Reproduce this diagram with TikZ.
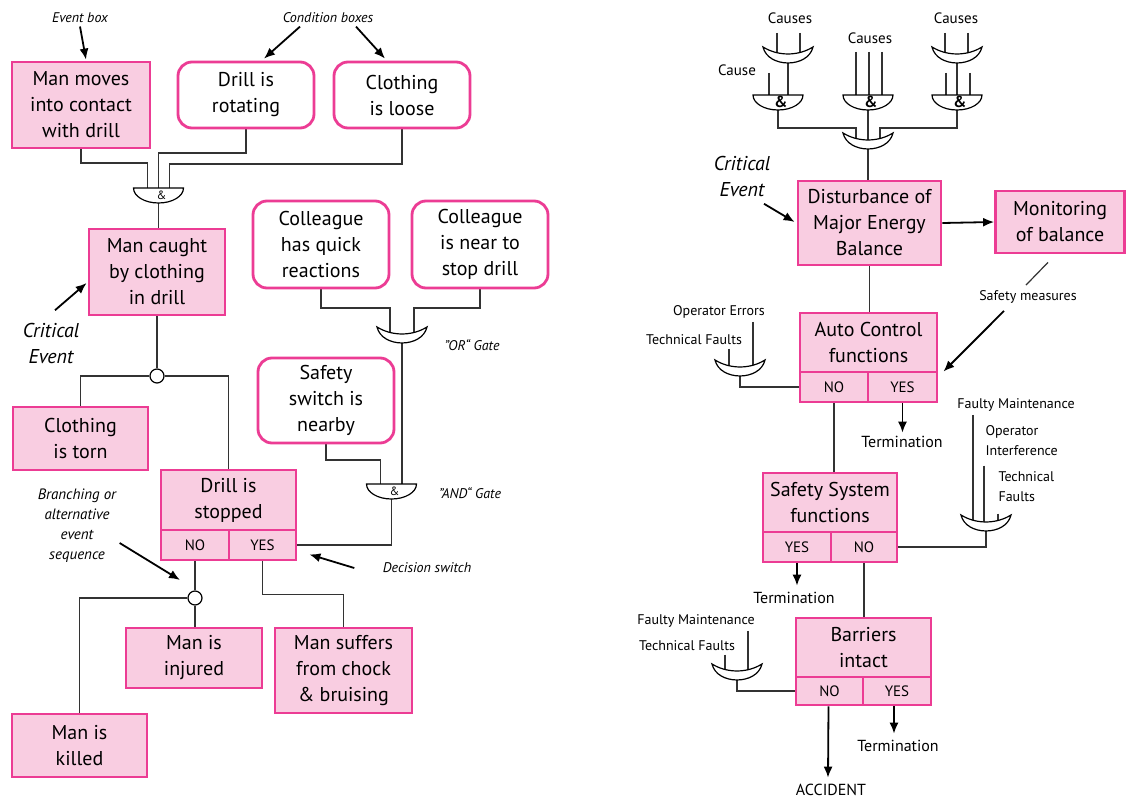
\documentclass[tikz,border=0pt]{standalone}
\usepackage{fontspec}
\setmainfont{PT Sans}
\usetikzlibrary{arrows.meta,calc}
\definecolor{boxfill}{HTML}{F9CDE1}
\definecolor{boxline}{HTML}{EC3C94}
\definecolor{wirecol}{HTML}{333333}
\pgfdeclarelayer{wires}
\pgfsetlayers{wires,main}

\tikzset{
  base/.style={draw=boxline, line width=2.8pt, fill=boxfill, align=center, inner sep=0pt,
               font=\fontsize{20}{26}\selectfont},
  evbox/.style={base},
  condbox/.style={base, fill=white, rounded corners=14pt},
  optbox/.style={base, font=\fontsize{15}{15}\selectfont},
  wire/.style={draw=wirecol, line width=1.2pt},
  pointer/.style={draw=black, line width=1.8pt, -{Latex[length=11pt,width=9pt]}},
  note/.style={font=\itshape\fontsize{14}{20}\selectfont, align=center},
  bignote/.style={font=\itshape\fontsize{20}{26}\selectfont, align=center},
  tag/.style={font=\fontsize{14}{20}\selectfont, align=center},
  termtag/.style={font=\fontsize{16}{20}\selectfont},
  junction/.style={circle, draw=black, fill=white, line width=1.2pt, minimum size=14pt, inner sep=0pt},
  gate/.style={draw=black, line width=1.2pt, fill=white},
  gatesym/.style={font=\fontsize{12}{12}\selectfont},
  pics/andgate/.style={code={
     \draw[gate] (-25,0) -- (25,0) .. controls (25,8.3) and (13.8,15) .. (0,15)
                 .. controls (-13.8,15) and (-25,8.3) .. (-25,0) -- cycle;
     \node[gatesym] at (3,7) {\&};
     \coordinate (-top) at (0,0);
     \coordinate (-l) at (-11,0);
     \coordinate (-c) at (0,0);
     \coordinate (-r) at (11,0);
     \coordinate (-out) at (0,15);
  }},
  pics/orgate/.style={code={
     \draw[gate] (-25,0) .. controls (-10,9.3) and (10,9.3) .. (25,0)
                 .. controls (20,21.3) and (-20,21.3) .. (-25,0) -- cycle;
     \coordinate (-top) at (0,8);
     \coordinate (-l) at (-12,8);
     \coordinate (-c) at (0,8);
     \coordinate (-r) at (12,8);
     \coordinate (-out) at (0,16);
  }},
}

\begin{document}
\begin{tikzpicture}[x=1pt,y=-1pt]
\begin{pgfonlayer}{wires}
  \fill[white] (0,0) rectangle (1127,800);
\end{pgfonlayer}
\useasboundingbox (0,0) rectangle (1127,800);

% ---------------- drill accident sequence ----------------
\node[evbox, minimum width=138pt, minimum height=86pt] (b1) at (81,105) {Man moves\\into contact\\with drill};
\node[condbox, minimum width=136pt, minimum height=66pt] (rot) at (246,95) {Drill is\\rotating};
\node[condbox, minimum width=136pt, minimum height=66pt] (loose) at (402,95) {Clothing\\is loose};
\pic (gA) at (158.5,188) {andgate};
\node[evbox, minimum width=136pt, minimum height=86pt] (caught) at (157,272) {Man caught\\by clothing\\in drill};
\node[junction] (j1) at (157,376) {};
\node[evbox, minimum width=135pt, minimum height=63pt] (torn) at (80.5,438.5) {Clothing\\is torn};
\node[condbox, minimum width=136pt, minimum height=87pt] (quick) at (321,244.5) {Colleague\\has quick\\reactions};
\node[condbox, minimum width=136pt, minimum height=87pt] (near) at (480,244.5) {Colleague\\is near to\\stop drill};
\pic (gOR) at (402,327) {orgate};
\node[condbox, minimum width=136pt, minimum height=85pt] (switch) at (326,400.5) {Safety\\switch is\\nearby};
\pic (gB) at (391.5,484) {andgate};
\node[evbox, minimum width=135pt, minimum height=60pt] (stop) at (228.5,500) {Drill is\\stopped};
\node[optbox, minimum width=68pt, minimum height=30pt] (stopno) at (195,545) {NO};
\node[optbox, minimum width=67pt, minimum height=30pt] (stopyes) at (262.5,545) {YES};
\node[junction] (j2) at (195,598) {};
\node[evbox, minimum width=136pt, minimum height=60pt] (injured) at (194,658) {Man is\\injured};
\node[evbox, minimum width=137pt, minimum height=85pt] (suffers) at (343.5,670.5) {Man suffers\\from chock\\\& bruising};
\node[evbox, minimum width=135pt, minimum height=63pt] (killed) at (79.5,745.5) {Man is\\killed};

\node[note] (evlbl) at (80,18) {Event box};
\node[note] (condlbl) at (328,18) {Condition boxes};
\node[bignote] (crit1) at (51,343) {Critical\\Event};
\node[note] (orlbl) at (472,345) {"OR“ Gate};
\node[note] (andlbl) at (470,493) {"AND“ Gate};
\node[note] (declbl) at (427,568) {Decision switch};
\node[note, font=\itshape\fontsize{15}{20}\selectfont] (brlbl) at (77,526) {Branching or\\alternative\\event\\sequence};

\draw[pointer] (evlbl.south) -- ([xshift=5pt,yshift=1pt]b1.north);
\draw[pointer] ([xshift=-28pt]condlbl.south) -- ([xshift=18pt,yshift=2pt]rot.north);
\draw[pointer] ([xshift=28pt]condlbl.south) -- ([xshift=-17pt,yshift=2pt]loose.north);
\draw[pointer] ([xshift=4pt,yshift=9pt]crit1.north) -- ([xshift=-1pt,yshift=-11pt]caught.west);
\draw[pointer] ([xshift=-25pt]declbl.west) -- ([xshift=12pt,yshift=7pt]stopyes.south east);
\draw[pointer] ([yshift=-17pt]brlbl.east) -- ([xshift=-15pt,yshift=18pt]j2.center);

\begin{pgfonlayer}{wires}
  \draw[wire] (b1.south) |- ($(gA-l)+(0,-25)$) -- (gA-l);
  \draw[wire] (rot.south) |- ($(gA-c)+(0,-35)$) -- (gA-c);
  \draw[wire] (loose.south) |- ($(gA-r)+(0,-24)$) -- (gA-r);
  \draw[wire] (gA-out) -- (gA-out |- caught.north);
  \draw[wire] (caught.south) -- (j1);
  \draw[wire] (j1.west) -| (torn.north);
  \draw[wire] (j1.east) -| (stop.north);
  \draw[wire] (quick.south) |- ($(gOR-l)+(0,-27)$) -- (gOR-l);
  \draw[wire] (near.south) |- ($(gOR-r)+(0,-27)$) -- (gOR-r);
  \draw[wire] (gOR-out) -- (gOR-out |- gB-top);
  \draw[wire] (switch.south) |- ($(gB-l)+(0,-24)$) -- (gB-l);
  \draw[wire] (gB-out) |- (stopyes.east);
  \draw[wire] (stopno.south) -- (j2);
  \draw[wire] (j2.west) -| (killed.north);
  \draw[wire] (j2.south) -- (j2.south |- injured.north);
  \draw[wire] (stopyes.south) |- ($(suffers.north)+(0,-32)$) -- (suffers.north);
\end{pgfonlayer}

% ---------------- energy balance barrier chain ----------------
\begin{scope}[gatesym/.style={font=\bfseries\fontsize{16}{16}\selectfont}]
  \pic (o1) at (788,47) {orgate};
  \pic (a1) at (778,95) {andgate};
  \pic (a2) at (868,95) {andgate};
  \pic (o3) at (957,47) {orgate};
  \pic (a3) at (957,95) {andgate};
  \pic (o4) at (868,133) {orgate};
  \pic (o5) at (740,360) {orgate};
  \pic (o6) at (986,515) {orgate};
  \pic (o7) at (737,664) {orgate};
\end{scope}

\node[tag, font=\fontsize{15}{20}\selectfont] (cs1) at (790,18) {Causes};
\node[tag, font=\fontsize{15}{20}\selectfont] (cs2) at (870,38) {Causes};
\node[tag, font=\fontsize{15}{20}\selectfont] (cs3) at (956,18) {Causes};
\node[tag, font=\fontsize{15}{20}\selectfont] (cs0) at (737,70) {Cause};

\coordinate (i1a) at (777,33);
\coordinate (i1b) at (800,33);
\coordinate (i0) at (769,73);
\coordinate (i2a) at (856,52);
\coordinate (i2b) at (869,52);
\coordinate (i2c) at (882,52);
\coordinate (i3a) at (945,33);
\coordinate (i3b) at (968,33);
\coordinate (i4a) at (946,73);
\coordinate (i4b) at (970,73);

\node[evbox, minimum width=143pt, minimum height=84pt] (dist) at (869.5,223) {Disturbance of\\Major Energy\\Balance};
\node[evbox, minimum width=129pt, minimum height=62pt] (mon) at (1060,222) {Monitoring\\of balance};
\node[evbox, minimum width=137pt, minimum height=59pt] (auto) at (868.5,342.5) {Auto Control\\functions};
\node[optbox, minimum width=68pt, minimum height=30pt] (autono) at (834,387) {NO};
\node[optbox, minimum width=69pt, minimum height=30pt] (autoyes) at (902.5,387) {YES};
\node[evbox, minimum width=134pt, minimum height=59pt] (safe) at (830,502.5) {Safety System\\functions};
\node[optbox, minimum width=68pt, minimum height=30pt] (safeyes) at (797,547) {YES};
\node[optbox, minimum width=66pt, minimum height=30pt] (safeno) at (864,547) {NO};
\node[evbox, minimum width=135pt, minimum height=59pt] (barr) at (863.5,647.5) {Barriers\\intact};
\node[optbox, minimum width=67pt, minimum height=28pt] (barrno) at (829.5,691) {NO};
\node[optbox, minimum width=68pt, minimum height=28pt] (barryes) at (897,691) {YES};

\node[bignote] (crit2) at (742,176) {Critical\\Event};
\node[tag] (smlbl) at (1028,297) {Safety measures};
\node[tag] (oelbl) at (719,312) {Operator Errors};
\node[tag] (tflbl) at (694,340) {Technical Faults};
\node[termtag] (term1) at (902,442) {Termination};
\node[termtag] (term2) at (794,598) {Termination};
\node[termtag] (term3) at (898,746) {Termination};
\node[termtag] (acc) at (831,790) {ACCIDENT};
\node[tag] (fm1) at (1016,405) {Faulty Maintenance};
\node[tag, align=left, anchor=west] (oilbl) at (982,441) {Operator\\Interference};
\node[tag, align=left, anchor=west] (tf2) at (995,487) {Technical\\Faults};
\node[tag] (fm2) at (696,621) {Faulty Maintenance};
\node[tag] (tf3) at (687,646) {Technical Faults};

\draw[pointer] ([xshift=22pt,yshift=-4pt]crit2.south) -- ([xshift=-2pt,yshift=1pt]dist.west);
\draw[pointer] (dist.east) -- (mon.west);
\draw[pointer] ([xshift=-24pt,yshift=-4pt]smlbl.south) -- ([xshift=5pt,yshift=-1pt]autoyes.north east);
\draw[pointer] (autoyes.south) -- (autoyes.south |- term1.north);
\draw[pointer] (safeyes.south) -- ([yshift=3pt]safeyes.south |- term2.north);
\draw[pointer] ([xshift=-3pt]barryes.south) -- ([xshift=-3pt,yshift=3pt]barryes.south |- term3.north);
\draw[pointer] ([xshift=-1pt]barrno.south) -- ([xshift=-3pt,yshift=3pt]acc.north);

\begin{pgfonlayer}{wires}
  \draw[wire] (i1a) -- (i1a |- o1-c);
  \draw[wire] (i1b) -- (i1b |- o1-c);
  \draw[wire] (o1-out) -- (o1-out |- a1-top);
  \draw[wire] (i0) -- (i0 |- a1-top);
  \draw[wire] (i2a) -- (i2a |- a2-top);
  \draw[wire] (i2b) -- (i2b |- a2-top);
  \draw[wire] (i2c) -- (i2c |- a2-top);
  \draw[wire] (i3a) -- (i3a |- o3-c);
  \draw[wire] (i3b) -- (i3b |- o3-c);
  \draw[wire] (o3-out) -- (o3-out |- a3-top);
  \draw[wire] (i4a) -- (i4a |- a3-top);
  \draw[wire] (i4b) -- (i4b |- a3-top);
  \draw[wire] (a1-out) |- ($(o4-l)+(0,-13)$) -- (o4-l);
  \draw[wire] (a2-out) -- (o4-c);
  \draw[wire] (a3-out) |- ($(o4-r)+(0,-13)$) -- (o4-r);
  \draw[wire] (o4-out) -- (o4-out |- dist.north);
  \draw[wire] (dist.south) -- (dist.south |- auto.north);
  \draw[wire] ([xshift=-12pt,yshift=-8pt]mon.south) -- ([xshift=-2pt,yshift=2pt]smlbl.north);
  \draw[wire] ([xshift=34pt]oelbl.south) -- ([xshift=34pt]oelbl.south |- o5-c);
  \draw[wire] ([xshift=35pt]tflbl.south) -- ([xshift=35pt]tflbl.south |- o5-c);
  \draw[wire] (o5-out) |- (autono.west);
  \draw[wire] (autono.south) -- (autono.south |- safe.north);
  \draw[wire] ([xshift=-43pt]fm1.south) -- ([xshift=-43pt]fm1.south |- o6-c);
  \draw[wire] ([xshift=2pt,yshift=-6pt]oilbl.south west) -- ([xshift=2pt]oilbl.south west |- o6-c);
  \draw[wire] ([xshift=3pt,yshift=-8pt]tf2.south west) -- ([xshift=3pt]tf2.south west |- o6-c);
  \draw[wire] (o6-out) |- (safeno.east);
  \draw[wire] (safeno.south) -- (safeno.south |- barr.north);
  \draw[wire] ([xshift=52pt]fm2.south) -- ([xshift=52pt]fm2.south |- o7-c);
  \draw[wire] ([xshift=38pt]tf3.south) -- ([xshift=38pt]tf3.south |- o7-c);
  \draw[wire] (o7-out) |- (barrno.west);
\end{pgfonlayer}
\end{tikzpicture}
\end{document}
